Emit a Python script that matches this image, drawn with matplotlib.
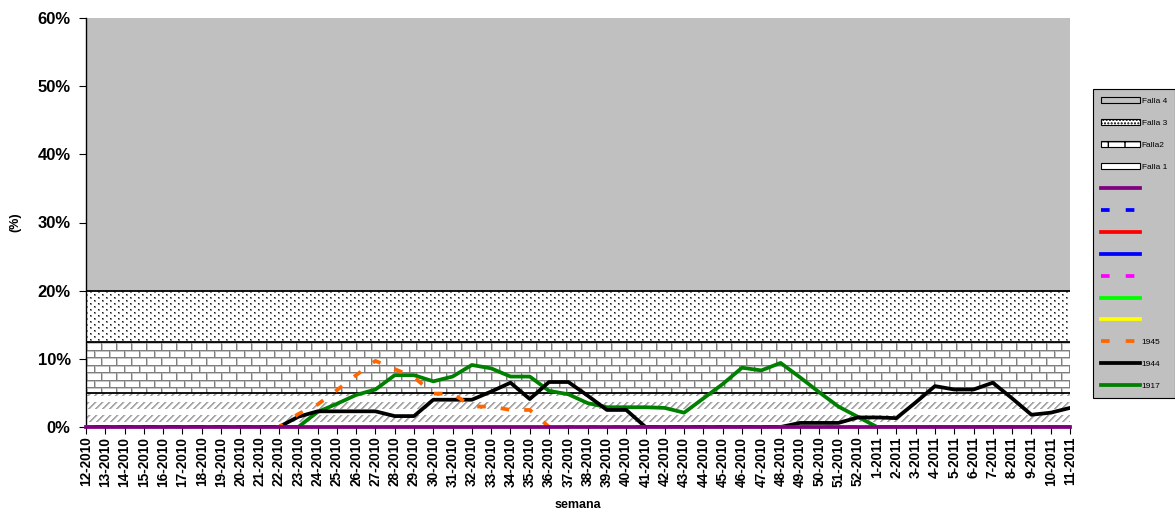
import numpy as np
import matplotlib
matplotlib.use("Agg")
import matplotlib.pyplot as plt
from matplotlib.patches import Patch
from matplotlib.lines import Line2D

plt.rcParams['font.family'] = ['Liberation Sans', 'DejaVu Sans']

# semanas epidemiologicas
semanas = ['12-2010', '13-2010', '14-2010', '15-2010', '16-2010', '17-2010', '18-2010',
           '19-2010', '20-2010', '21-2010', '22-2010', '23-2010', '24-2010', '25-2010',
           '26-2010', '27-2010', '28-2010', '29-2010', '30-2010', '31-2010', '32-2010',
           '33-2010', '34-2010', '35-2010', '36-2010', '37-2010', '38-2010', '39-2010',
           '40-2010', '41-2010', '42-2010', '43-2010', '44-2010', '45-2010', '46-2010',
           '47-2010', '48-2010', '49-2010', '50-2010', '51-2010', '52-2010', '1-2011',
           '2-2011', '3-2011', '4-2011', '5-2011', '6-2011', '7-2011', '8-2011',
           '9-2011', '10-2011', '11-2011']

# bandas de fondo (grosor de cada franja, apiladas)
falla_nombres = ['Falla 1', 'Falla2', 'Falla 3', 'Falla 4']
falla_grosor = [5, 7.5, 7.5, 40]

# series (%)
s1945 = [0, 0, 0, 0, 0, 0, 0, 0, 0, 0, 0,
         1.9, 3.3, 5.4, 7.6, 9.7, 8.5, 7.3, 4.9, 4.9, 3.0, 3.0, 2.5, 2.5,
         0, 0, 0, 0, 0, 0, 0, 0, 0, 0, 0, 0, 0, 0, 0, 0, 0, 0, 0, 0, 0, 0, 0, 0, 0, 0, 0, 0]
s1944 = [0, 0, 0, 0, 0, 0, 0, 0, 0, 0, 0,
         1.5, 2.3, 2.3, 2.3, 2.3, 1.6, 1.6, 4.0, 4.0, 4.0, 5.2, 6.5, 4.1, 6.6, 6.6, 4.6,
         2.5, 2.5, 0,
         0, 0, 0, 0, 0, 0, 0,
         0.6, 0.6, 0.6, 1.4, 1.4, 1.3, 3.6, 6.0, 5.5, 5.5, 6.5, 4.2, 1.8, 2.1, 2.8]
s1917 = [0, 0, 0, 0, 0, 0, 0, 0, 0, 0, 0, 0,
         2.2, 3.4, 4.7, 5.5, 7.6, 7.6, 6.7, 7.4, 9.1, 8.6, 7.4, 7.4, 5.3, 4.8, 3.5,
         2.9, 2.9, 2.9, 2.8, 2.1, 4.2, 6.3, 8.7, 8.3, 9.4, 7.3, 5.1, 3.0, 1.5,
         0, 0, 0, 0, 0, 0, 0, 0, 0, 0, 0]
s_morado = [0.0] * len(semanas)

x = np.arange(len(semanas))

fig = plt.figure(figsize=(11.75, 5.13), dpi=100)
ax = fig.add_axes([86 / 1175, 1 - 427 / 513, 984 / 1175, 409 / 513])

# texturas tipo Excel (en pixeles del area de trazado)
H, W = 409, 984
r, c = np.mgrid[0:H, 0:W]

def textura(mask_dark, dark, light=None, mask_light=None):
    img = np.ones((H, W, 3))
    if mask_light is not None:
        img[mask_light] = light
    img[mask_dark] = dark
    return img

# Falla 1: diagonales claras
rr = (r - 384) % 13
diag = (rr < 7) & ((c + r) % 7 < 2)
diag2 = (rr < 7) & ((c + r) % 7 == 2)
tex1 = textura(diag, (0.66, 0.66, 0.66), (0.85, 0.85, 0.85), diag2)
# Falla2: ladrillos
br = (r - 324) % 15
junta = np.where(br < 8, c % 15 == 0, (c + 7) % 15 == 0)
junta2 = np.where(br < 8, c % 15 == 1, (c + 7) % 15 == 1)
mortero = (br == 0) | (br == 8) | junta
sombra = (br == 1) | (br == 9) | junta2
tex2 = textura(mortero, (0.5, 0.5, 0.5), (0.78, 0.78, 0.78), sombra)
# Falla 3: puntos
puntos = ((r % 6 == 0) & (c % 8 == 0)) | ((r % 6 == 3) & (c % 8 == 4))
halo = (((r % 6 == 0) | (r % 6 == 1)) & (c % 8 < 2)) | \
       (((r % 6 == 3) | (r % 6 == 4)) & ((c % 8 == 4) | (c % 8 == 5)))
tex3 = textura(puntos, (0.1, 0.1, 0.1), (0.55, 0.55, 0.55), halo)

texturas = [tex1, tex2, tex3, None]
base = np.zeros(len(x))
for nombre, grosor, tex in zip(falla_nombres, falla_grosor, texturas):
    tope = base + grosor
    if tex is None:
        ax.fill_between(x, base, tope, facecolor='#C0C0C0', edgecolor='none', zorder=1)
    else:
        poly = ax.fill_between(x, base, tope, facecolor='none', edgecolor='none', zorder=1)
        im = ax.imshow(tex, extent=(x[0], x[-1], 0, 60), aspect='auto',
                       interpolation='nearest', zorder=1)
        im.set_clip_path(poly.get_paths()[0], transform=ax.transData)
        ax.plot(x, tope, color='black', lw=1.3, zorder=2)
    base = tope

lw = 2.7
ax.plot(x, s1917, color='#008000', lw=lw, zorder=3)
ax.plot(x, s1944, color='black', lw=lw, zorder=4)
ax.plot(x, s1945, color='#FF6600', lw=lw, ls=(0, (2.3, 4.0)), dash_capstyle='butt', zorder=5)
ax.plot(x, s_morado, color='#800080', lw=lw, zorder=6, clip_on=False)

ax.set_xlim(x[0], x[-1])
ax.set_ylim(0, 60)
ax.set_xticks(x)
ax.set_xticklabels(semanas, rotation=90, fontsize=9.8, fontweight='bold')
ax.set_yticks([0, 10, 20, 30, 40, 50, 60])
ax.set_yticklabels(['0%', '10%', '20%', '30%', '40%', '50%', '60%'],
                   fontsize=12, fontweight='bold')
ax.tick_params(axis='x', direction='out', length=5, width=0.8, pad=2)
ax.tick_params(axis='y', direction='out', length=5, width=0.8, pad=6)
for lado in ['top', 'right', 'bottom']:
    ax.spines[lado].set_visible(False)
ax.spines['left'].set_linewidth(1.0)

fig.text(15 / 1175, 1 - 222 / 513, '(%)', rotation=90, fontsize=9, fontweight='bold',
         ha='center', va='center')
fig.text(578 / 1175, 1 - 505 / 513, 'semana', fontsize=9, fontweight='bold',
         ha='center', va='center')

# leyenda
rayas = (0, (2.3, 4.3))
handles = [
    Patch(facecolor='#C0C0C0', edgecolor='black', lw=0.8),
    Patch(facecolor='white', edgecolor='black', hatch='.....', lw=0.8),
    Patch(facecolor='white', edgecolor='black', hatch='+', lw=0.8),
    Patch(facecolor='white', edgecolor='black', lw=0.8),
    Line2D([], [], color='#800080', lw=lw),
    Line2D([], [], color='#0000FF', lw=lw, ls=rayas),
    Line2D([], [], color='#FF0000', lw=lw),
    Line2D([], [], color='#0000FF', lw=lw),
    Line2D([], [], color='#FF00FF', lw=lw, ls=rayas),
    Line2D([], [], color='#00FF00', lw=lw),
    Line2D([], [], color='#FFFF00', lw=lw),
    Line2D([], [], color='#FF6600', lw=lw, ls=rayas),
    Line2D([], [], color='black', lw=lw),
    Line2D([], [], color='#008000', lw=lw),
]
labels = ['Falla 4', 'Falla 3', 'Falla2', 'Falla 1', '', '', '', '', '', '', '',
          '1945', '1944', '1917']
leg = fig.legend(handles, labels, loc='upper left',
                 bbox_to_anchor=(1093 / 1175, 1 - 89 / 513),
                 fontsize=6, frameon=True, fancybox=False, framealpha=1,
                 facecolor='#C0C0C0', edgecolor='black', handlelength=4.7,
                 handleheight=0.75, handletextpad=0.2, labelspacing=1.68,
                 borderpad=0.95, borderaxespad=0)
leg.get_frame().set_linewidth(0.8)

plt.savefig('out.png', dpi=100)
